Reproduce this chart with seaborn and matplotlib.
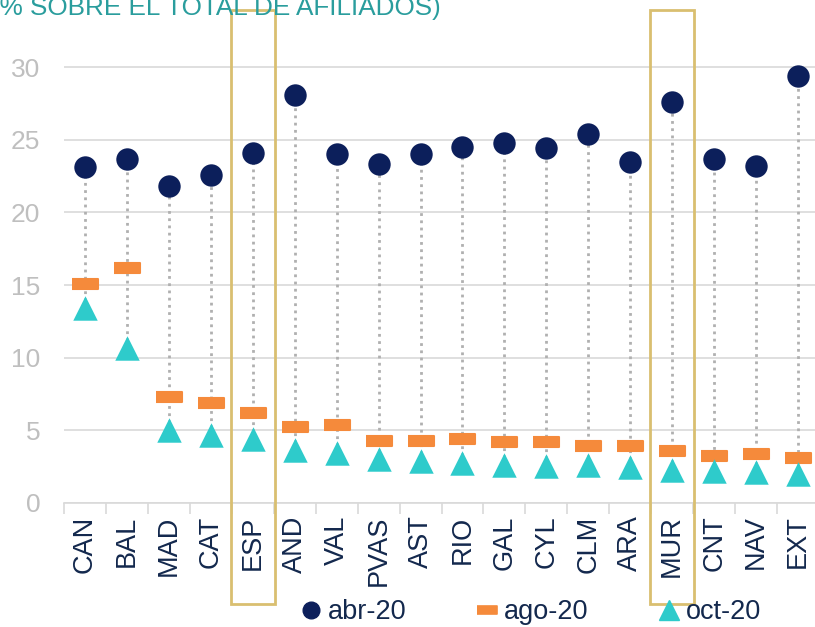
import matplotlib.pyplot as plt
import matplotlib.patches as patches
import numpy as np
import pandas as pd
import seaborn as sns
from matplotlib.lines import Line2D
from matplotlib.markers import MarkerStyle

regions = ["CAN", "BAL", "MAD", "CAT", "ESP", "AND", "VAL", "PVAS", "AST",
           "RIO", "GAL", "CYL", "CLM", "ARA", "MUR", "CNT", "NAV", "EXT"]
abr_20 = [23.1, 23.7, 21.8, 22.6, 24.1, 28.1, 24.0, 23.3, 24.0,
          24.5, 24.8, 24.4, 25.4, 23.5, 27.6, 23.7, 23.2, 29.4]
ago_20 = [15.1, 16.2, 7.3, 6.9, 6.2, 5.2, 5.4, 4.3, 4.3,
          4.4, 4.2, 4.2, 3.9, 3.9, 3.55, 3.25, 3.4, 3.1]
oct_20 = [13.4, 10.7, 5.0, 4.7, 4.4, 3.65, 3.45, 3.0, 2.9,
          2.75, 2.6, 2.55, 2.6, 2.5, 2.3, 2.2, 2.1, 2.0]
highlighted = ["ESP", "MUR"]
title = "(% SOBRE EL TOTAL DE AFILIADOS)"

navy = "#0c1f5b"
orange = "#f58a3b"
teal = "#2ecbcb"
gold = "#d9bf70"
grid_grey = "#d9d9d9"
text_navy = "#13284d"

df = pd.DataFrame({"region": regions, "abr-20": abr_20,
                   "ago-20": ago_20, "oct-20": oct_20})

sns.set_theme(style="white")
plt.rcParams["font.family"] = ["Liberation Sans", "DejaVu Sans"]

fig = plt.figure(figsize=(8.15, 6.27), dpi=100)
ax = fig.add_axes([64 / 815, 1 - 503 / 627, 755 / 815, 465 / 627])

xs = np.arange(len(regions))
# dotted stems from the april dot down to the october triangle
ax.vlines(xs, df["oct-20"], df["abr-20"], colors="#b0b0b0",
          linestyles=(0, (1, 1.6)), linewidth=2, zorder=1)

dash = MarkerStyle([(-1, -0.36), (1, -0.36), (1, 0.36), (-1, 0.36)],
                   joinstyle="round")
sns.scatterplot(data=df, x="region", y="abr-20", ax=ax, color=navy,
                marker="o", s=260, linewidth=0, zorder=3)
sns.scatterplot(data=df, x="region", y="ago-20", ax=ax, color=orange,
                marker=dash, s=360, linewidth=1.5, edgecolor=orange, zorder=3)
sns.scatterplot(data=df, x="region", y="oct-20", ax=ax, color=teal,
                marker="^", s=310, linewidth=0, zorder=3)

ax.set_xlim(-0.5, len(regions) - 0.5)
ax.set_ylim(0, 32)
ax.set_yticks(range(0, 31, 5))
ax.yaxis.grid(True, color=grid_grey, linewidth=1.2)
ax.xaxis.grid(False)
for side in ["top", "right", "left"]:
    ax.spines[side].set_visible(False)
ax.spines["bottom"].set_color(grid_grey)
ax.spines["bottom"].set_linewidth(1.2)
ax.set_xlabel("")
ax.set_ylabel("")

ax.set_xticks(xs)
ax.set_xticklabels(regions, rotation=90, fontsize=19.5, color=text_navy)
ax.set_xticks(np.arange(-0.5, len(regions), 1), minor=True)
ax.tick_params(axis="x", which="major", length=0, pad=9)
ax.tick_params(axis="x", which="minor", length=8, color=grid_grey, width=1.2,
               bottom=True)
ax.tick_params(axis="y", length=0, pad=17, labelsize=19, labelcolor="#bfbfbf")

for name in highlighted:
    i = regions.index(name)
    rect = patches.Rectangle((i - 0.53, -6.95), 1.06, 40.9, fill=False,
                             edgecolor=gold, linewidth=2, clip_on=False,
                             zorder=4)
    ax.add_patch(rect)

fig.text(-0.011, 1 - 15 / 627, title, fontsize=18.8, color="#2a9d9d",
         ha="left", va="baseline")

handles = [
    Line2D([], [], linestyle="none", marker="o", color=navy, markersize=12),
    Line2D([], [], linestyle="none", marker=dash, color=orange,
           markeredgecolor=orange, markeredgewidth=1.2, markersize=15),
    Line2D([], [], linestyle="none", marker="^", color=teal, markersize=15),
]
fig.legend(handles, ["abr-20", "ago-20", "oct-20"], loc="center",
           bbox_to_anchor=(530 / 815, 1 - 612 / 627), ncol=3, frameon=False,
           fontsize=19.5, labelcolor=text_navy, handletextpad=0.15,
           handlelength=0.9, columnspacing=2.55, borderpad=0)

fig.savefig("out.png", dpi=100)
